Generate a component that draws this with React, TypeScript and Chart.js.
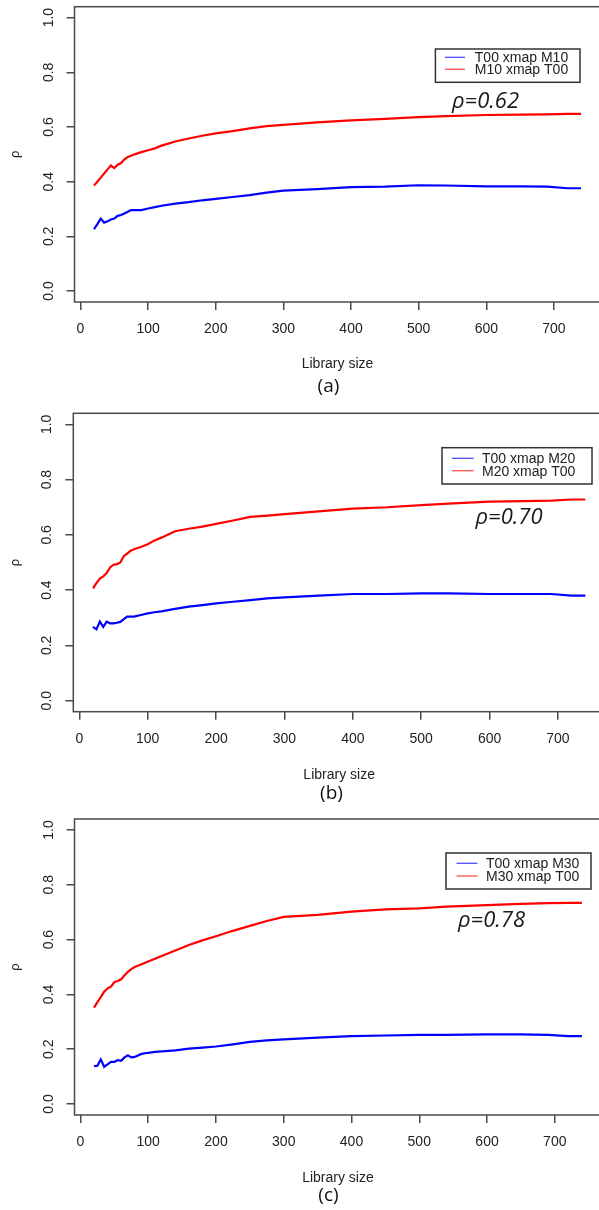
import React, { useEffect, useRef } from "react";
import { Chart, registerables } from "chart.js";

Chart.register(...registerables);

// ---------- data ----------
const LIBRARY_SIZES = [20, 25, 30, 35, 40, 45, 50, 55, 60, 65, 70, 75, 80, 90, 100, 110, 120, 140, 160, 180, 200, 225, 250, 275, 300, 350, 400, 450, 500, 540, 600, 650, 690, 720, 740];
const X_TICKS = [0, 100, 200, 300, 400, 500, 600, 700];
const Y_TICKS = [0, 0.2, 0.4, 0.6, 0.8, 1.0];
const X_MIN = -8.8;
const X_MAX = 768.8;
const Y_MIN = -0.04;
const Y_MAX = 1.04;

// panel (a)
const A_T00_XMAP_M10 = [0.226, 0.245, 0.265, 0.25, 0.255, 0.262, 0.265, 0.275, 0.278, 0.284, 0.29, 0.296, 0.296, 0.296, 0.302, 0.307, 0.312, 0.32, 0.325, 0.332, 0.337, 0.344, 0.351, 0.36, 0.367, 0.373, 0.38, 0.382, 0.387, 0.386, 0.383, 0.383, 0.382, 0.376, 0.376];
const A_M10_XMAP_T00 = [0.386, 0.4, 0.415, 0.43, 0.445, 0.459, 0.45, 0.462, 0.468, 0.482, 0.49, 0.495, 0.5, 0.508, 0.515, 0.522, 0.532, 0.547, 0.558, 0.568, 0.577, 0.585, 0.595, 0.603, 0.608, 0.617, 0.624, 0.63, 0.636, 0.64, 0.644, 0.645, 0.646, 0.648, 0.648];
// panel (b)
const B_T00_XMAP_M20 = [0.267, 0.258, 0.286, 0.267, 0.286, 0.28, 0.28, 0.282, 0.285, 0.295, 0.304, 0.304, 0.304, 0.31, 0.316, 0.32, 0.323, 0.332, 0.34, 0.346, 0.352, 0.358, 0.364, 0.37, 0.374, 0.38, 0.386, 0.386, 0.388, 0.388, 0.386, 0.386, 0.386, 0.38, 0.38];
const B_M20_XMAP_T00 = [0.406, 0.425, 0.442, 0.45, 0.462, 0.482, 0.492, 0.494, 0.5, 0.523, 0.532, 0.543, 0.548, 0.556, 0.566, 0.58, 0.59, 0.613, 0.622, 0.63, 0.64, 0.652, 0.665, 0.67, 0.675, 0.685, 0.695, 0.7, 0.708, 0.713, 0.72, 0.722, 0.724, 0.728, 0.728];
// panel (c)
const C_T00_XMAP_M30 = [0.138, 0.14, 0.163, 0.136, 0.145, 0.154, 0.154, 0.16, 0.158, 0.17, 0.178, 0.17, 0.172, 0.183, 0.187, 0.19, 0.192, 0.196, 0.202, 0.206, 0.21, 0.218, 0.227, 0.232, 0.236, 0.242, 0.248, 0.25, 0.252, 0.252, 0.254, 0.254, 0.252, 0.248, 0.248];
const C_M30_XMAP_T00 = [0.352, 0.372, 0.39, 0.41, 0.422, 0.428, 0.445, 0.449, 0.455, 0.47, 0.482, 0.492, 0.5, 0.51, 0.52, 0.53, 0.54, 0.56, 0.58, 0.597, 0.612, 0.632, 0.65, 0.668, 0.683, 0.69, 0.702, 0.71, 0.714, 0.72, 0.726, 0.73, 0.733, 0.734, 0.734];

const LEGEND_A = ["T00 xmap M10", "M10 xmap T00"];
const LEGEND_B = ["T00 xmap M20", "M20 xmap T00"];
const LEGEND_C = ["T00 xmap M30", "M30 xmap T00"];
const RHO_LABELS = ["ρ=0.62", "ρ=0.70", "ρ=0.78"];
const CAPTIONS = ["(a)", "(b)", "(c)"];
const X_TITLE = "Library size";
const Y_TITLE = "ρ";

// ---------- styles ----------
const CANVAS_W = 620;
const SANS = "'Liberation Sans', Arial, sans-serif";
const ANNOT = "'Open Sans', 'Noto Sans', sans-serif";
const FONT_SIZE = 14;
const AXIS_COLOR = "#4a4a4a";
const TEXT_COLOR = "#222222";
const BLUE = "#0000ff";
const RED = "#ff0000";

type Spec = {
  top: number;
  height: number;
  area: { left: number; top: number; right: number; bottom: number };
  blue: number[];
  red: number[];
  legend: string[];
  lg: { x: number; y: number; w: number; h: number; l0: number; l1: number; tx: number; r1: number; r2: number };
  rho: string;
  rhoPos: { x: number; y: number };
  caption: string;
  capPos: { x: number; y: number };
  xTitleY: number;
};

const SPECS: Spec[] = [
  {
    top: 0, height: 410,
    area: { left: 74.5, top: 6.7, right: 600.5, bottom: 302 },
    blue: A_T00_XMAP_M10, red: A_M10_XMAP_T00, legend: LEGEND_A,
    lg: { x: 435.4, y: 49, w: 144.6, h: 33.3, l0: 445, l1: 465, tx: 474.8, r1: 57.3, r2: 69.3 },
    rho: RHO_LABELS[0], rhoPos: { x: 452, y: 108 },
    caption: CAPTIONS[0], capPos: { x: 328.5, y: 386.5 },
    xTitleY: 364,
  },
  {
    top: 400, height: 410,
    area: { left: 73.3, top: 13.3, right: 605, bottom: 311.7 },
    blue: B_T00_XMAP_M20, red: B_M20_XMAP_T00, legend: LEGEND_B,
    lg: { x: 442, y: 47.7, w: 150, h: 36.3, l0: 452, l1: 473.6, tx: 482, r1: 58.3, r2: 70.7 },
    rho: RHO_LABELS[1], rhoPos: { x: 475.5, y: 124 },
    caption: CAPTIONS[1], capPos: { x: 331.5, y: 393.3 },
    xTitleY: 375,
  },
  {
    top: 800, height: 410,
    area: { left: 74.5, top: 19, right: 601.4, bottom: 315 },
    blue: C_T00_XMAP_M30, red: C_M30_XMAP_T00, legend: LEGEND_C,
    lg: { x: 446, y: 53, w: 145, h: 36, l0: 456.5, l1: 477.5, tx: 486, r1: 63.3, r2: 76 },
    rho: RHO_LABELS[2], rhoPos: { x: 458, y: 127 },
    caption: CAPTIONS[2], capPos: { x: 328.5, y: 396 },
    xTitleY: 378.5,
  },
];

function Panel({ spec }: { spec: Spec }) {
  const ref = useRef<HTMLCanvasElement>(null);
  useEffect(() => {
    const canvas = ref.current;
    if (!canvas) return;
    const deco = {
      id: "deco",
      afterDraw(chart: any) {
        const ctx = chart.ctx as CanvasRenderingContext2D;
        const a = chart.chartArea;
        ctx.save();
        // plot frame
        ctx.strokeStyle = AXIS_COLOR;
        ctx.lineWidth = 1.5;
        ctx.strokeRect(a.left, a.top, a.right - a.left, a.bottom - a.top);
        // legend box
        const g = spec.lg;
        ctx.fillStyle = "#ffffff";
        ctx.fillRect(g.x, g.y, g.w, g.h);
        ctx.strokeStyle = "#333333";
        ctx.lineWidth = 1.5;
        ctx.strokeRect(g.x, g.y, g.w, g.h);
        ctx.lineWidth = 1.3;
        ctx.strokeStyle = "#4d4dff";
        ctx.beginPath();
        ctx.moveTo(g.l0, g.r1);
        ctx.lineTo(g.l1, g.r1);
        ctx.stroke();
        ctx.strokeStyle = "#ff4d4d";
        ctx.beginPath();
        ctx.moveTo(g.l0, g.r2);
        ctx.lineTo(g.l1, g.r2);
        ctx.stroke();
        ctx.fillStyle = TEXT_COLOR;
        ctx.font = `${FONT_SIZE}px ${SANS}`;
        ctx.textAlign = "left";
        ctx.textBaseline = "middle";
        ctx.fillText(spec.legend[0], g.tx, g.r1 + 1);
        ctx.fillText(spec.legend[1], g.tx, g.r2 + 1);
        // rho annotation
        ctx.font = `italic 22px ${ANNOT}`;
        ctx.textBaseline = "alphabetic";
        ctx.fillStyle = "#1a1a1a";
        ctx.fillText(spec.rho, spec.rhoPos.x, spec.rhoPos.y);
        // caption
        ctx.font = `19px ${ANNOT}`;
        ctx.textAlign = "center";
        ctx.textBaseline = "middle";
        ctx.fillStyle = "#111111";
        ctx.fillText(spec.caption, spec.capPos.x, spec.capPos.y);
        ctx.restore();
      },
    };

    const lineH = FONT_SIZE * 1.2;
    const xTitlePad = spec.height - spec.xTitleY - lineH / 2;

    const chart = new Chart(canvas, {
      type: "line",
      data: {
        datasets: [
          {
            label: spec.legend[0],
            data: LIBRARY_SIZES.map((x, i) => ({ x, y: spec.blue[i] })),
            borderColor: BLUE,
            borderWidth: 2.2,
            pointRadius: 0,
            tension: 0,
            fill: false,
          },
          {
            label: spec.legend[1],
            data: LIBRARY_SIZES.map((x, i) => ({ x, y: spec.red[i] })),
            borderColor: RED,
            borderWidth: 2.2,
            pointRadius: 0,
            tension: 0,
            fill: false,
          },
        ],
      },
      options: {
        responsive: false,
        animation: false,
        devicePixelRatio: 1,
        layout: {
          padding: { left: 0, top: spec.area.top, right: CANVAS_W - spec.area.right, bottom: 0 },
        },
        plugins: {
          legend: { display: false },
          tooltip: { enabled: false },
          title: { display: false },
        },
        scales: {
          x: {
            type: "linear",
            min: X_MIN,
            max: X_MAX,
            afterBuildTicks: (s: any) => {
              s.ticks = X_TICKS.map((v) => ({ value: v }));
            },
            afterFit: (s: any) => {
              s.height = spec.height - spec.area.bottom;
              s.paddingLeft = 0;
              s.paddingRight = 0;
            },
            grid: {
              display: true,
              drawOnChartArea: false,
              drawTicks: true,
              tickLength: 8,
              color: AXIS_COLOR,
              lineWidth: 1.5,
            },
            border: { display: false },
            ticks: {
              autoSkip: false,
              maxRotation: 0,
              minRotation: 0,
              padding: 11,
              color: TEXT_COLOR,
              font: { family: SANS, size: FONT_SIZE },
              callback: (v: any) => String(v),
            },
            title: {
              display: true,
              text: X_TITLE,
              color: TEXT_COLOR,
              font: { family: SANS, size: FONT_SIZE },
              padding: { top: 0, bottom: xTitlePad },
            },
          },
          y: {
            type: "linear",
            min: Y_MIN,
            max: Y_MAX,
            afterBuildTicks: (s: any) => {
              s.ticks = Y_TICKS.map((v) => ({ value: v }));
            },
            afterFit: (s: any) => {
              s.width = spec.area.left;
              s.paddingTop = 0;
              s.paddingBottom = 0;
            },
            grid: {
              display: true,
              drawOnChartArea: false,
              drawTicks: true,
              tickLength: 8,
              color: AXIS_COLOR,
              lineWidth: 1.5,
            },
            border: { display: false },
            ticks: {
              autoSkip: false,
              minRotation: 90,
              maxRotation: 90,
              crossAlign: "center",
              padding: 8,
              color: TEXT_COLOR,
              font: { family: SANS, size: FONT_SIZE },
              callback: (v: any) => Number(v).toFixed(1),
            },
            title: {
              display: true,
              text: Y_TITLE,
              color: TEXT_COLOR,
              font: { family: SANS, size: 13 },
              padding: { top: 8, bottom: 0 },
            },
          },
        },
      },
      plugins: [deco],
    } as any);
    return () => chart.destroy();
  }, [spec]);
  return (
    <canvas
      ref={ref}
      width={CANVAS_W}
      height={spec.height}
      style={{ position: "absolute", left: 0, top: spec.top, width: CANVAS_W, height: spec.height, display: "block" }}
    />
  );
}

export default function App() {
  return (
    <div
      style={{
        position: "absolute",
        left: 0,
        top: 0,
        width: 599,
        height: 1210,
        overflow: "hidden",
        background: "#ffffff",
      }}
    >
      {SPECS.map((s, i) => (
        <Panel key={i} spec={s} />
      ))}
    </div>
  );
}
